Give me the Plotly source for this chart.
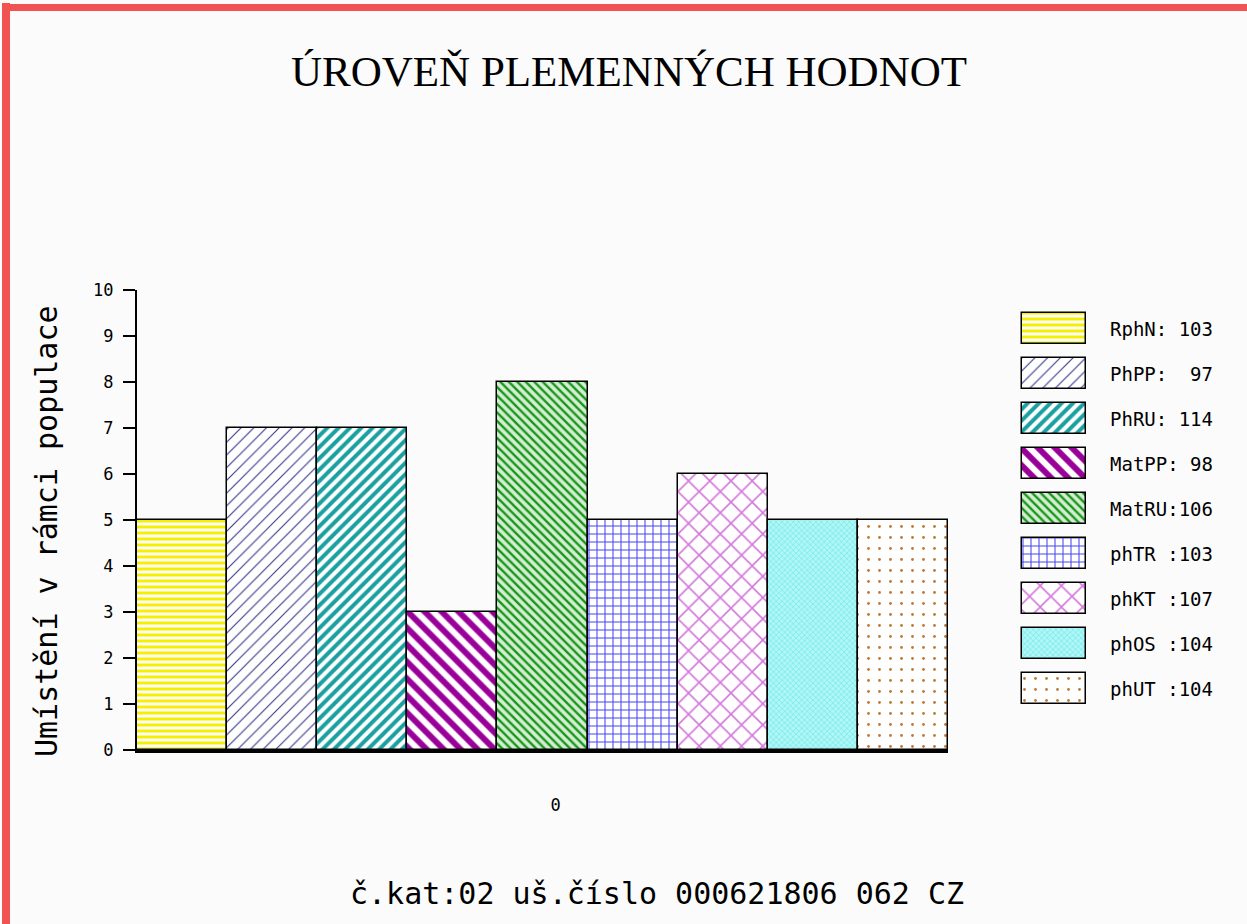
import plotly.graph_objects as go

# ---------------- data ----------------
trait_names = ["RphN", "PhPP", "PhRU", "MatPP", "MatRU", "phTR", "phKT", "phOS", "phUT"]
breeding_values = [103, 97, 114, 98, 106, 103, 107, 104, 104]
population_rank = [5, 7, 7, 3, 8, 5, 6, 5, 5]
legend_labels = ["RphN: 103", "PhPP:  97", "PhRU: 114", "MatPP: 98", "MatRU:106",
                 "phTR :103", "phKT :107", "phOS :104", "phUT :104"]
x_category = ["0"]
y_ticks = list(range(0, 11))
title_text = "ÚROVEŇ PLEMENNÝCH HODNOT"
y_title_text = "Umístění v rámci populace"
footer_text = "č.kat:02 uš.číslo 000621806 062 CZ"

# ---------------- styles ----------------
patterns = [
    dict(shape="-", fgcolor="#f4f000", bgcolor="#ffffff", size=6, solidity=0.5),
    dict(shape="/", fgcolor="#34348a", bgcolor="#ffffff", size=9, solidity=0.12),
    dict(shape="/", fgcolor="#1aa0a0", bgcolor="#ffffff", size=8, solidity=0.5),
    dict(shape="\\", fgcolor="#990099", bgcolor="#ffffff", size=12, solidity=0.5),
    dict(shape="\\", fgcolor="#1a961a", bgcolor="#d4eed4", size=6, solidity=0.4),
    dict(shape="+", fgcolor="#4a4af0", bgcolor="#ffffff", size=8, solidity=0.25),
    dict(shape="x", fgcolor="#d478dc", bgcolor="#ffffff", size=15, solidity=0.2),
    dict(shape="x", fgcolor="#6ee8e8", bgcolor="#b0f6f6", size=4, solidity=0.3),
    dict(shape=".", fgcolor="#c07a35", bgcolor="#ffffff", size=11, solidity=0.05),
]
for p in patterns:
    p["fgopacity"] = 1

W, H = 1247, 924
L, R, T, B = 137, 20, 290, 174
PW, PH = W - L - R, H - T - B


def px_x(px):
    return (px - L) / PW


def px_y(py):
    return (H - B - py) / PH


mono = "DejaVu Sans Mono"
fig = go.Figure()

# main bars
for name, val, pat in zip(trait_names, population_rank, patterns):
    fig.add_trace(go.Bar(
        x=x_category, y=[val], name=name,
        marker=dict(color=pat["fgcolor"], pattern=pat,
                    line=dict(color="#000000", width=1.5)),
        xaxis="x", yaxis="y", showlegend=False, hoverinfo="name+y",
        cliponaxis=False,
    ))

# legend swatches (horizontal bars on a secondary axis)
box_w = 31 / 45
pad = 3 / 64
ypad = 3 / 45
for i, (name, pat) in enumerate(zip(trait_names, patterns)):
    fig.add_trace(go.Bar(
        x=[1], y=[i], orientation="h", width=box_w, base=0,
        marker=dict(color=pat["fgcolor"], pattern=pat,
                    line=dict(color="#000000", width=1.5)),
        xaxis="x2", yaxis="y2", showlegend=False, hoverinfo="skip",
        cliponaxis=False,
    ))

annotations = []
for i, lab in enumerate(legend_labels):
    annotations.append(dict(
        x=px_x(1108), y=i, xref="paper", yref="y2", text=lab, showarrow=False,
        xanchor="left", yanchor="middle",
        font=dict(family=mono, size=19, color="#000000"),
    ))

annotations.append(dict(
    x=px_x(46), y=px_y(531), xref="paper", yref="paper", text=y_title_text,
    showarrow=False, textangle=-90, xanchor="center", yanchor="middle",
    font=dict(family=mono, size=30, color="#000000"),
))
annotations.append(dict(
    x=px_x(657), y=px_y(893), xref="paper", yref="paper", text=footer_text,
    showarrow=False, xanchor="center", yanchor="middle",
    font=dict(family=mono, size=30, color="#000000"),
))

shapes = [
    dict(type="rect", xref="paper", yref="paper", x0=px_x(2), x1=px_x(10),
         y0=px_y(H + 5), y1=px_y(3), fillcolor="#f25252", line=dict(width=0), layer="above"),
    dict(type="rect", xref="paper", yref="paper", x0=px_x(2), x1=px_x(W + 5),
         y0=px_y(11), y1=px_y(4), fillcolor="#f25252", line=dict(width=0), layer="above"),
]

fig.update_layout(
    width=W, height=H,
    margin=dict(l=L, r=R, t=T, b=B, pad=0),
    paper_bgcolor="#fbfbfb", plot_bgcolor="#fbfbfb",
    barmode="group", bargap=0, bargroupgap=0,
    title=dict(text=title_text, x=629 / W, y=1 - 71 / H, xref="container",
               yref="container", xanchor="center", yanchor="middle",
               font=dict(family="Liberation Serif", size=43, color="#000000")),
    xaxis=dict(domain=[0, px_x(948)], type="category", showgrid=False,
               showline=True, linecolor="#000000", linewidth=3, ticks="",
               ticklabelstandoff=38, ticklabelshift=13, zeroline=False,
               tickfont=dict(family=mono, size=17, color="#000000")),
    yaxis=dict(domain=[0, 1], range=[0, 10], tickvals=y_ticks, showgrid=False,
               showline=True, linecolor="#000000", linewidth=2, ticks="outside",
               ticklen=12, tickwidth=2, tickcolor="#000000", zeroline=False,
               ticklabelstandoff=6,
               tickfont=dict(family=mono, size=17, color="#000000")),
    xaxis2=dict(domain=[px_x(1019), px_x(1089)], range=[-pad, 1 + pad], anchor="y2",
                visible=False),
    yaxis2=dict(domain=[px_y(707), px_y(310)],
                range=[8 + box_w / 2 + ypad, -box_w / 2 - ypad],
                anchor="x2", visible=False),
    annotations=annotations,
    shapes=shapes,
)

fig.write_html("out.html", config={"displayModeBar": False},
               post_script="document.body.style.margin='0';")
